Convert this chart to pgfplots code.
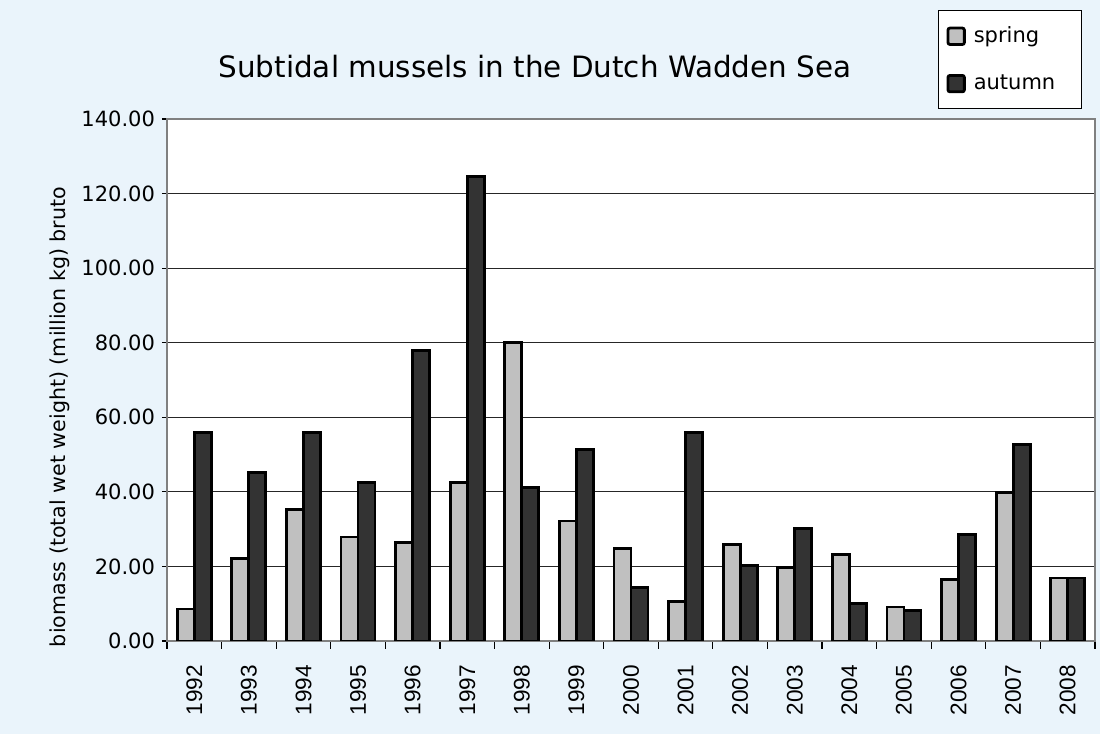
\documentclass[border=0pt]{standalone}
\usepackage{pgfplots}
\pgfplotsset{compat=1.18}
\usepackage{fontspec}
\setmainfont{DejaVu Sans}
\newfontfamily\yearfont{Liberation Sans}
\definecolor{bgblue}{RGB}{234,244,251}
\definecolor{springc}{RGB}{192,192,192}
\definecolor{autumnc}{RGB}{51,51,51}
\definecolor{axgray}{RGB}{128,128,128}
\begin{document}
\begin{tikzpicture}[x=1pt,y=1pt]
\fill[bgblue] (0,0) rectangle (550,367);
\path[use as bounding box] (0,0) rectangle (550,367);
\node[font=\fontsize{14.7}{17}\selectfont] at (267.5,333.5) {Subtidal mussels in the Dutch Wadden Sea};
\node[rotate=90,font=\fontsize{10.3}{12}\selectfont] at (30,158.5) {biomass (total wet weight) (million kg) bruto};
\begin{axis}[
  at={(83.5pt,46.5pt)}, anchor=south west,
  scale only axis, width=464pt, height=261pt,
  axis background/.style={fill=white},
  ybar=0pt, bar width=8.5pt,
  xmin=-0.5, xmax=16.5, ymin=0, ymax=140,
  ytick={0,20,...,140},
  xtick={0,...,16},
  xticklabels={1992,1993,1994,1995,1996,1997,1998,1999,2000,2001,2002,2003,2004,2005,2006,2007,2008},
  minor xtick={-0.5,0.5,...,16.5},
  major x tick style={draw=none},
  minor x tick style={draw=black, line width=0.6pt},
  minor tick length=4pt,
  major tick length=2.5pt,
  y tick style={draw=black, line width=0.6pt},
  tick align=outside, tick pos=lower,
  ymajorgrids, major grid style={draw=black!85, line width=0.6pt},
  axis line style={draw=axgray, line width=1.3pt},
  /pgf/number format/fixed, /pgf/number format/fixed zerofill, /pgf/number format/precision=2,
  /pgf/number format/assume math mode=true,
  yticklabel style={font=\fontsize{10.5}{12}\selectfont},
  xticklabel style={rotate=90, anchor=east, font=\yearfont\fontsize{11.3}{12}\selectfont},
  xticklabel shift=6pt,
  every axis plot/.append style={draw=black, line width=1.4pt},
  legend style={at={(0.8308,1.2088)}, anchor=north west, draw=black, line width=0.6pt, fill=white,
    font=\fontsize{10.5}{12}\selectfont, row sep=10.5pt, inner xsep=4pt, inner ysep=6pt,
    /tikz/every odd column/.append style={column sep=2pt},
    nodes={text width=48pt, align=left}},
  legend cell align=left,
  legend image code/.code={\draw[#1, line width=1.4pt, rounded corners=1pt] (0.5pt,-4.2pt) rectangle (8.7pt,4pt);},
]
\addplot[fill=springc] coordinates {
(0,8.6) (1,22.2) (2,35.3) (3,27.9) (4,26.5) (5,42.5) (6,80.1) (7,32.2) (8,24.8)
(9,10.6) (10,25.9) (11,19.7) (12,23.2) (13,9.1) (14,16.5) (15,39.8) (16,16.9)};
\addplot[fill=autumnc] coordinates {
(0,56.0) (1,45.1) (2,56.0) (3,42.5) (4,78.0) (5,124.5) (6,41.2) (7,51.4) (8,14.3)
(9,56.0) (10,20.2) (11,30.2) (12,10.1) (13,8.1) (14,28.5) (15,52.8) (16,16.9)};
\legend{spring,autumn}
\end{axis}
\end{tikzpicture}
\end{document}
